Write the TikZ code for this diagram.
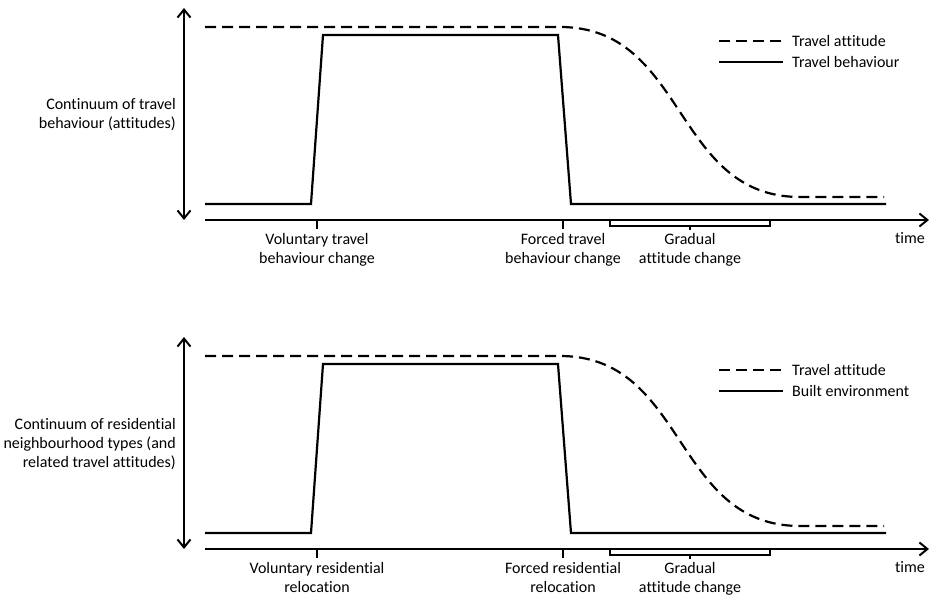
\documentclass[tikz,border=0pt]{standalone}
\usepackage{fontspec}
\setmainfont{Carlito}[Ligatures=NoCommon]
\usetikzlibrary{arrows.meta}
\usetikzlibrary{positioning}
\newcommand\mypanel[6]{% prefix, shift, axis text, legend text, first event, second event
\begin{scope}[yshift=#2]
\coordinate (#1top) at (184,8);
\coordinate (#1bot) at (184,220);
\coordinate (#1mid) at (184,115);
\coordinate (#1orig) at (205,220);
\coordinate (#1end) at (929,220);
\coordinate (#1vtick) at (317,229);
\coordinate (#1ftick) at (563,229);
\coordinate (#1gtick) at (690,230);
\draw [axis,<->] (#1top) -- (#1bot);
\draw [axis,->] (#1orig) -- (#1end);
\node [lbl,left=8pt of #1mid,align=right] (#1ylab) {#3};
\node [lbl,anchor=north] (#1time) at (910,232) {time};
% curves
\draw [curve] (205,204) -- (311,204) -- (323,35) -- (558,35) -- (571,204) -- (886,204);
\draw [curve,dashed line] (205,27) -- (560,27) .. controls (687,27) and (673,197) .. (800,197) -- (884,197);
% events on the time axis
\draw [tick] (317,220) -- (#1vtick);
\draw [tick] (563,220) -- (#1ftick);
\draw [bracket] (610,220) -- (610,226) -- (770,226) -- (770,220);
\draw [bracket] (690,226) -- (#1gtick);
\node [lbl,below=4pt of #1vtick] (#1vlab) {#5};
\node [lbl,below=4pt of #1ftick] (#1flab) {#6};
\node [lbl,below=3pt of #1gtick] (#1glab) {Gradual\\attitude change};
% legend
\coordinate (#1da) at (719,41);
\coordinate (#1db) at (783,41);
\coordinate (#1sa) at (719,62);
\coordinate (#1sb) at (783,62);
\draw [curve,dashed line] (#1da) -- (#1db);
\draw [curve] (#1sa) -- (#1sb);
\node [lbl,right=9pt of #1db] (#1dlab) {Travel attitude};
\node [lbl,right=9pt of #1sb] (#1slab) {#4};
\end{scope}}

\begin{document}
\begin{tikzpicture}[x=1pt, y=-1pt,
>={Straight Barb[length=8pt,width=13pt]},
axis/.style={line width=2pt},
curve/.style={line width=2.2pt},
dashed line/.style={dash pattern=on 11pt off 6pt},
tick/.style={line width=1.5pt},
bracket/.style={line width=1.1pt},
lbl/.style={inner sep=0pt, align=center, font=\fontsize{16}{19}\selectfont}
]
\useasboundingbox (0,0) rectangle (932,597);
\mypanel{t}{0pt}{Continuum of travel\\behaviour (attitudes)}{Travel behaviour}{Voluntary travel\\behaviour change}{Forced travel\\behaviour change}
\mypanel{b}{-329pt}{Continuum of residential\\neighbourhood types (and\\related travel attitudes)}{Built environment}{Voluntary residential\\relocation}{Forced residential\\relocation}
\end{tikzpicture}
\end{document}
